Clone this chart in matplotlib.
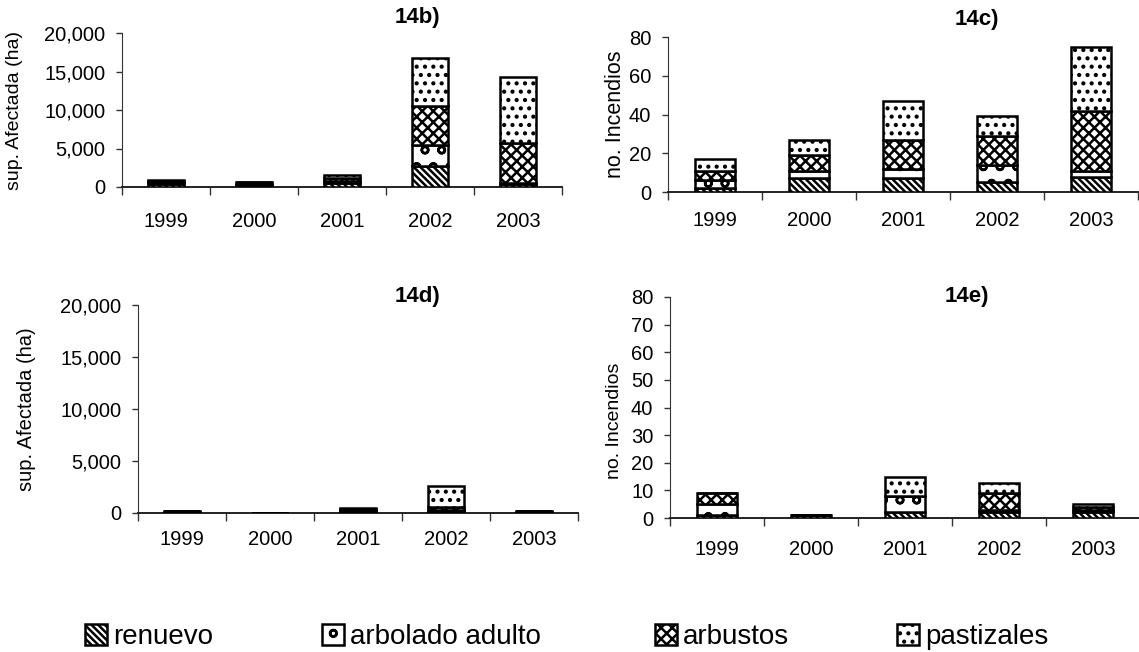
import numpy as np
from matplotlib import pyplot as plt
import matplotlib.patches as mpatches
from matplotlib.ticker import FuncFormatter, FixedLocator

plt.rcParams['font.family'] = ['Liberation Sans', 'DejaVu Sans']
plt.rcParams['hatch.linewidth'] = 1.8
plt.rcParams['hatch.color'] = 'black'

YEARS = ['1999', '2000', '2001', '2002', '2003']
TYPES = ['renuevo', 'arbolado adulto', 'arbustos', 'pastizales']
HATCHES = ['\\\\\\\\\\', 'o', 'xxx', '..']

# 14b) superficie afectada (ha)
sup_b_renuevo = [400, 300, 500, 2700, 400]
sup_b_arbolado = [200, 150, 300, 2800, 100]
sup_b_arbustos = [200, 150, 400, 5000, 5200]
sup_b_pastizales = [100, 100, 300, 6200, 8600]

# 14c) numero de incendios
inc_c_renuevo = [2, 7, 7, 5, 8]
inc_c_arbolado = [4, 4, 5, 9, 3]
inc_c_arbustos = [5, 8, 15, 15, 31]
inc_c_pastizales = [6, 8, 20, 10, 33]

# 14d) superficie afectada (ha)
sup_d_renuevo = [100, 10, 200, 200, 100]
sup_d_arbolado = [50, 10, 100, 100, 50]
sup_d_arbustos = [50, 5, 100, 300, 30]
sup_d_pastizales = [30, 5, 100, 2000, 20]

# 14e) numero de incendios
inc_e_renuevo = [1, 1, 2, 2, 2]
inc_e_arbolado = [4, 0, 6, 1, 1]
inc_e_arbustos = [4, 0, 0, 6, 1]
inc_e_pastizales = [0, 0, 7, 3.5, 1]

W, H = 1139, 652


def px_axes(fig, left, right, top, bottom):
    return fig.add_axes([left / W, 1 - bottom / H, (right - left) / W, (bottom - top) / H])


def stacked(ax, series, ymax, yticks, fmt, ylabel, lab_size, lab_x, lab_y, xpad, title, tx, ty):
    x = np.arange(len(YEARS))
    bottom = np.zeros(len(YEARS))
    for vals, hatch in zip(series, HATCHES):
        vals = np.array(vals, dtype=float)
        ax.bar(x, vals, width=0.42, bottom=bottom, color='white', edgecolor='black',
               hatch=hatch, linewidth=1.8, zorder=3)
        bottom += vals
    ax.set_xlim(-0.5, 4.5)
    ax.set_ylim(0, ymax)
    ax.set_yticks(yticks)
    ax.yaxis.set_major_formatter(FuncFormatter(fmt))
    ax.set_xticks(x)
    ax.set_xticklabels(YEARS)
    ax.xaxis.set_minor_locator(FixedLocator(np.arange(-0.5, 5, 1)))
    ax.tick_params(axis='x', which='major', length=0, pad=xpad, labelsize=14.5)
    ax.tick_params(axis='x', which='minor', length=6, direction='out', width=1, color='#333333')
    ax.tick_params(axis='y', length=4, width=1, direction='out', pad=8, labelsize=14.5, color='#333333')
    for s in ['top', 'right']:
        ax.spines[s].set_visible(False)
    ax.spines['left'].set_color('#333333')
    ax.spines['bottom'].set_color('#222222')
    ax.spines['bottom'].set_linewidth(1.4)
    ax.set_ylabel(ylabel, fontsize=lab_size)
    ax.yaxis.set_label_coords(lab_x, lab_y)
    ax.patch.set_alpha(0)
    fig.text(tx / W, 1 - ty / H, title, fontsize=16, fontweight='bold', ha='left', va='center')


fig = plt.figure(figsize=(W / 100, H / 100), dpi=100)

thousands = lambda v, p: '{:,.0f}'.format(v)
plain = lambda v, p: '{:.0f}'.format(v)

ax_b = px_axes(fig, 122, 562, 33, 187)
stacked(ax_b, [sup_b_renuevo, sup_b_arbolado, sup_b_arbustos, sup_b_pastizales],
        20000, range(0, 20001, 5000), thousands, 'sup. Afectada (ha)', 14,
        -0.225, 0.5, 18, '14b)', 395, 17)

ax_c = px_axes(fig, 668, 1138, 37, 192)
stacked(ax_c, [inc_c_renuevo, inc_c_arbolado, inc_c_arbustos, inc_c_pastizales],
        80, range(0, 81, 20), plain, 'no. Incendios', 15.5,
        -0.09, 0.5, 14, '14c)', 955, 20)

ax_d = px_axes(fig, 138, 578, 305, 513)
stacked(ax_d, [sup_d_renuevo, sup_d_arbolado, sup_d_arbustos, sup_d_pastizales],
        20000, range(0, 20001, 5000), thousands, 'sup. Afectada (ha)', 14.5,
        -0.232, 0.5, 12, '14d)', 395, 297)

ax_e = px_axes(fig, 670, 1140, 297, 518)
stacked(ax_e, [inc_e_renuevo, inc_e_arbolado, inc_e_arbustos, inc_e_pastizales],
        80, range(0, 81, 10), plain, 'no. Incendios', 14,
        -0.1, 0.44, 16, '14e)', 945, 297)

# legend entries placed one by one, uneven spacing as in the original
leg_x = [85, 322, 655, 897]
for lx, name, hatch in zip(leg_x, TYPES, HATCHES):
    h = mpatches.Patch(facecolor='white', edgecolor='black', hatch=hatch, linewidth=1.8)
    fig.legend(handles=[h], labels=[name], loc='center left',
               bbox_to_anchor=(lx / W, 1 - 637 / H), frameon=False, borderpad=0,
               borderaxespad=0, handlelength=0.8, handleheight=0.8, handletextpad=0.2,
               fontsize=20)

fig.savefig('out.png', dpi=100)
